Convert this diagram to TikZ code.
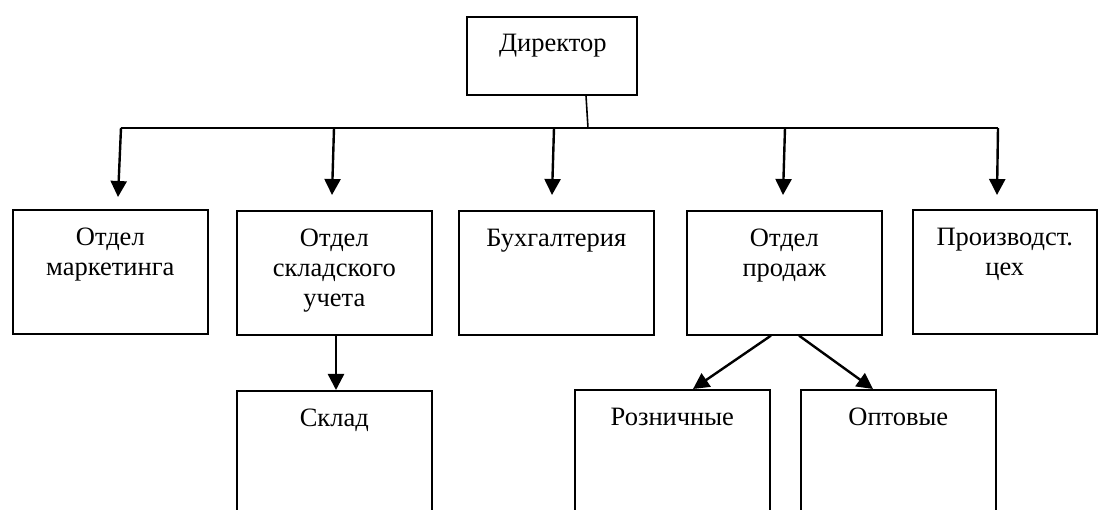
\documentclass[tikz,border=0pt]{standalone}
\usepackage{fontspec}
\setmainfont{Liberation Serif}
\usetikzlibrary{arrows.meta,calc}
\begin{document}
\begin{tikzpicture}[x=1pt,y=-1pt,
  box/.style={draw,line width=1.6pt,anchor=north west,inner sep=0pt,
              minimum width=195pt,minimum height=124pt},
  tall/.style={box,minimum height=160pt},
  txt/.style={anchor=north,align=center,inner sep=0pt,
              font=\fontsize{26.5}{30}\selectfont},
  link/.style={line width=1.6pt},
  arr/.style={line width=2.4pt,-{Triangle[width=16pt,length=16pt]}}]
\useasboundingbox (0,0) rectangle (1098,510);
\clip (0,0) rectangle (1098,510);

% director
\node[box,minimum width=170pt,minimum height=78pt] (dir) at (466,16) {};
\node[txt] (dirt) at ($(dir.north)+(1,18)$) {Директор};

% first level
\node[box] (mk) at (12,209) {};
\node[box] (sk) at (236,210) {};
\node[box] (bh) at (458,210) {};
\node[box] (pr) at (686,210) {};
\node[box,minimum width=184pt] (ce) at (912,209) {};

\node[txt] (mkt) at ($(mk.north)+(0,19)$) {Отдел\\маркетинга};
\node[txt] (skt) at ($(sk.north)+(0,19)$) {Отдел\\складского\\учета};
\node[txt] (bht) at ($(bh.north)+(0,19)$) {Бухгалтерия};
\node[txt] (prt) at ($(pr.north)+(0,19)$) {Отдел\\продаж};
\node[txt] (cet) at ($(ce.north)+(0,19)$) {Производст.\\цех};

% second level
\node[tall] (sd) at (236,390) {};
\node[tall] (rz) at (574,389) {};
\node[tall] (op) at (800,389) {};

\node[txt] (sdt) at ($(sd.north)+(0,19)$) {Склад};
\node[txt] (rzt) at ($(rz.north)+(0,19)$) {Розничные};
\node[txt] (opt) at ($(op.north)+(0,19)$) {Оптовые};

% distribution bus
\coordinate (d0) at ($(dir.south west)+(120,0)$);
\coordinate (bus) at (588,128);
\coordinate (b1) at (121,128);
\coordinate (b2) at (334,128);
\coordinate (b3) at (554,128);
\coordinate (b4) at (785,128);
\coordinate (b5) at (998,128);
\coordinate (t1) at (118,197);
\coordinate (t2) at (332,195);
\coordinate (t3) at (552,195);
\coordinate (t4) at (783,195);
\coordinate (t5) at (997,195);

\draw[link] (d0) -- (bus);
\draw[link] (b1) -- (b5);
\foreach \i in {1,...,5} \draw[arr] (b\i) -- (t\i);

% sub-level connectors
\coordinate (s1) at ($(sk.south west)+(100,0)$);
\coordinate (s2) at ($(sd.north west)+(100,0)$);
\draw[arr] (s1) -- (s2);
\coordinate (p1) at ($(pr.south west)+(85,0)$);
\coordinate (p2) at ($(pr.south west)+(113,0)$);
\coordinate (r1) at ($(rz.north west)+(119,0)$);
\coordinate (o1) at ($(op.north west)+(73,0)$);
\draw[arr] (p1) -- (r1);
\draw[arr] (p2) -- (o1);
\end{tikzpicture}
\end{document}
